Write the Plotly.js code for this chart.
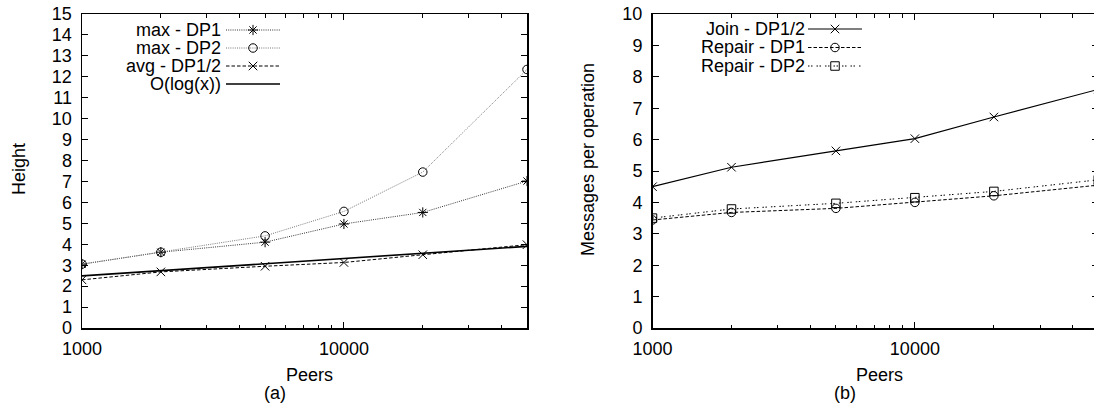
<!DOCTYPE html>
<html>
<head>
<meta charset="utf-8">
<script src="https://cdn.plot.ly/plotly-3.0.1.min.js"></script>
<style>
html,body{margin:0;padding:0;overflow:hidden;background:#fff;}
#chart{width:1100px;height:405px;}
</style>
</head>
<body>
<div id="chart"></div>
<script>
// ---- data ----
const peers = [1000, 2000, 5000, 10000, 20000, 50000];
// panel (a): Height
const maxDP1 = [3.05, 3.62, 4.1, 4.97, 5.52, 7.02];
const maxDP2 = [3.05, 3.62, 4.4, 5.57, 7.45, 12.35];
const avgDP12 = [2.3, 2.68, 2.95, 3.13, 3.5, 3.98];
const oLog = [2.49, 2.74, 3.07, 3.32, 3.57, 3.9];
// panel (b): Messages per operation
const joinDP12 = [4.5, 5.12, 5.64, 6.03, 6.72, 7.6];
const repairDP1 = [3.44, 3.68, 3.81, 4.0, 4.21, 4.55];
const repairDP2 = [3.5, 3.79, 3.97, 4.15, 4.35, 4.72];

const xMajor = [1000, 10000];
const xMinor = [2000, 3000, 4000, 5000, 6000, 7000, 8000, 9000, 20000, 30000, 40000];
const yTicksA = [0,1,2,3,4,5,6,7,8,9,10,11,12,13,14,15];
const yTicksB = [0,1,2,3,4,5,6,7,8,9,10];

const W = 1100, H = 405;
const FONT = {family: 'Liberation Sans, Arial, sans-serif', size: 18, color: '#000'};
const px = v => v / W;
const py = v => 1 - v / H;

const dotFine = '1px,1.2px';
const dashA = '3.5px,2px';
const dotB = '1.5px,1.5px,1.5px,4px';

function xaxisCfg(domain) {
  return {
    type: 'log', domain: domain, range: [3, Math.log10(50000)],
    showline: true, linecolor: '#000', linewidth: 1.5, mirror: 'ticks',
    ticks: 'inside', ticklen: 6, tickwidth: 1, tickcolor: '#000',
    tickvals: xMajor, ticktext: xMajor.map(String),
    minor: {tickvals: xMinor, ticks: 'inside', ticklen: 3.5, tickwidth: 1, tickcolor: '#000'},
    showgrid: false, zeroline: false, tickfont: FONT, ticklabelstandoff: 4,
    fixedrange: true
  };
}
function yaxisCfg(ticks, xanchor) {
  return {
    domain: [py(328), py(14)], range: [0, ticks[ticks.length - 1]], anchor: xanchor,
    showline: true, linecolor: '#000', linewidth: 1.5, mirror: 'ticks',
    ticks: 'inside', ticklen: 6, tickwidth: 1, tickcolor: '#000',
    tickvals: ticks, ticktext: ticks.map(String),
    showgrid: false, zeroline: false, tickfont: FONT, ticklabelstandoff: 5,
    fixedrange: true
  };
}

function mk(sym) {
  return {symbol: sym || 'circle', size: 8.5, color: '#000', line: {color: '#000', width: 1}};
}

function series(x, y, ax, name, sym, dash, color, lw) {
  return {
    x: x, y: y, xaxis: ax[0], yaxis: ax[1], name: name, type: 'scatter',
    mode: sym ? 'lines+markers' : 'lines',
    line: {color: color, width: lw, dash: dash},
    marker: mk(sym),
    showlegend: false, hoverinfo: 'x+y+name'
  };
}

const A = ['x', 'y'], B = ['x2', 'y2'];

const traces = [
  series(peers, maxDP1, A, 'max - DP1', 'asterisk-open', dotFine, '#333', 1),
  series(peers, maxDP2, A, 'max - DP2', 'circle-open', dotFine, '#777', 1),
  series(peers, avgDP12, A, 'avg - DP1/2', 'x-thin-open', dashA, '#000', 1),
  series(peers, oLog, A, 'O(log(x))', null, 'solid', '#000', 1.6),
  series(peers, joinDP12, B, 'Join - DP1/2', 'x-thin-open', 'solid', '#000', 1.2),
  series(peers, repairDP1, B, 'Repair - DP1', 'circle-open', dashA, '#000', 1),
  series(peers, repairDP2, B, 'Repair - DP2', 'square-open', dotB, '#000', 1)
];

// ---- hand-drawn key (gnuplot style: text, then sample) ----
const keyA = [
  {name: 'max - DP1', y: 30, sym: 'asterisk-open', dash: dotFine, color: '#333', lw: 1},
  {name: 'max - DP2', y: 48, sym: 'circle-open', dash: dotFine, color: '#777', lw: 1},
  {name: 'avg - DP1/2', y: 66, sym: 'x-thin-open', dash: dashA, color: '#000', lw: 1},
  {name: 'O(log(x))', y: 84, sym: null, dash: 'solid', color: '#000', lw: 1.6}
];
const keyB = [
  {name: 'Join - DP1/2', y: 29, sym: 'x-thin-open', dash: 'solid', color: '#000', lw: 1.2},
  {name: 'Repair - DP1', y: 47.5, sym: 'circle-open', dash: dashA, color: '#000', lw: 1},
  {name: 'Repair - DP2', y: 66, sym: 'square-open', dash: dotB, color: '#000', lw: 1}
];
const annotations = [];
function addKey(key, textRight, x0, x1) {
  key.forEach(k => {
    annotations.push({xref: 'paper', yref: 'paper', x: px(textRight), y: py(k.y),
      xanchor: 'right', yanchor: 'middle', text: k.name, showarrow: false, font: FONT});
    traces.push({x: [x0, x1], y: [k.y, k.y], xaxis: 'x3', yaxis: 'y3', mode: 'lines',
      line: {color: k.color, width: k.lw, dash: k.dash}, showlegend: false, hoverinfo: 'skip'});
    if (k.sym) traces.push({x: [(x0 + x1) / 2], y: [k.y], xaxis: 'x3', yaxis: 'y3', mode: 'markers',
      marker: mk(k.sym), showlegend: false, hoverinfo: 'skip'});
  });
}
addKey(keyA, 223, 226, 280);
addKey(keyB, 807, 808, 862);

// axis titles and panel captions
annotations.push(
  {xref: 'paper', yref: 'paper', x: px(19), y: py(169), text: 'Height', textangle: -90, showarrow: false, font: FONT, xanchor: 'center', yanchor: 'middle'},
  {xref: 'paper', yref: 'paper', x: px(309), y: py(375), text: 'Peers', showarrow: false, font: FONT, xanchor: 'center', yanchor: 'middle'},
  {xref: 'paper', yref: 'paper', x: px(275), y: py(393), text: '(a)', showarrow: false, font: FONT, xanchor: 'center', yanchor: 'middle'},
  {xref: 'paper', yref: 'paper', x: px(588), y: py(160), text: 'Messages per operation', textangle: -90, showarrow: false, font: FONT, xanchor: 'center', yanchor: 'middle'},
  {xref: 'paper', yref: 'paper', x: px(879), y: py(375), text: 'Peers', showarrow: false, font: FONT, xanchor: 'center', yanchor: 'middle'},
  {xref: 'paper', yref: 'paper', x: px(845), y: py(393), text: '(b)', showarrow: false, font: FONT, xanchor: 'center', yanchor: 'middle'}
);

const layout = {
  width: W, height: H,
  margin: {l: 0, r: 0, t: 0, b: 0, pad: 0},
  paper_bgcolor: '#fff', plot_bgcolor: 'rgba(0,0,0,0)',
  font: FONT,
  showlegend: false,
  xaxis: xaxisCfg([px(82), px(527)]),
  yaxis: yaxisCfg(yTicksA, 'x'),
  xaxis2: xaxisCfg([px(652.5), px(1098.3)]),
  yaxis2: yaxisCfg(yTicksB, 'x2'),
  xaxis3: {domain: [0, 1], range: [0, W], visible: false, fixedrange: true, anchor: 'y3'},
  yaxis3: {domain: [0, 1], range: [H, 0], visible: false, fixedrange: true, anchor: 'x3'},
  annotations: annotations
};
layout.xaxis.anchor = 'y';
layout.xaxis2.anchor = 'y2';

Plotly.newPlot('chart', traces, layout, {staticPlot: true, displayModeBar: false});
</script>
</body>
</html>
